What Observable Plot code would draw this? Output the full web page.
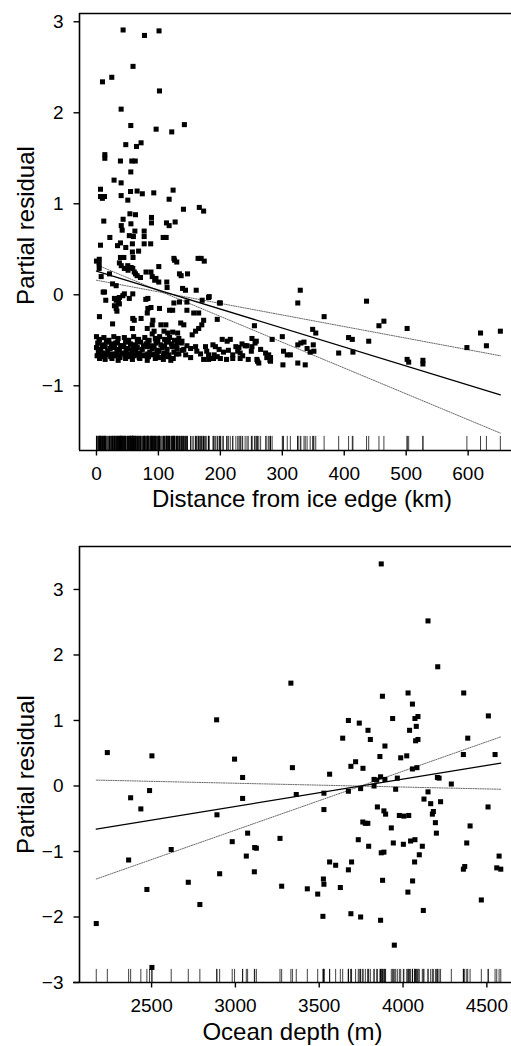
<!DOCTYPE html>
<html>
<head>
<meta charset="utf-8">
<script src="https://cdn.jsdelivr.net/npm/d3@7"></script>
<script src="https://cdn.jsdelivr.net/npm/@observablehq/plot@0.6"></script>
<style>
  html, body { margin: 0; padding: 0; background: #fff; }
  #chart svg { display: block; }
</style>
</head>
<body>
<div id="chart"></div>
<script>
// ---------- Tick labels ----------
const iceTicksX = [0, 100, 200, 300, 400, 500, 600];
const residTicksTop = [-1, 0, 1, 2, 3];
const depthTicksX = [2500, 3000, 3500, 4000, 4500];
const residTicksBottom = [-3, -2, -1, 0, 1, 2, 3];

// ---------- Panel 1: distance from ice edge (km) vs partial residual ----------
const icePoints = [
  // upper scatter
  [43,2.91],[77.5,2.85],[101,2.90],[59,2.51],[9.7,2.34],[24.7,2.39],[101.7,2.24],[39.8,2.04],
  [55.4,1.86],[96.3,1.82],[121.5,1.79],[141.9,1.87],[47.3,1.65],[64.6,1.63],[72,1.67],[13.5,1.54],
  [13.5,1.50],[38.7,1.47],[57,1.47],[62.6,1.47],[55.4,1.35],[28.4,1.26],[39.8,1.23],[6.5,1.16],
  [6.5,1.08],[9.5,1.06],[13,1.08],[39.8,1.09],[50.6,1.04],[55,1.135],[65.6,1.14],[74,1.11],
  [92.5,1.12],[123.7,1.15],[117.3,1.05],[140.4,0.94],[166,0.96],[173,0.92],[54,0.89],[63,0.88],
  [11.8,0.81],[43,0.83],[88.8,0.85],[88.8,0.79],[113,0.79],[117.3,0.76],[127,0.80],[40,0.76],
  [41.5,0.71],[55.6,0.78],[62,0.70],[77,0.70],[21.6,0.63],[53,0.65],[59.6,0.64],[77,0.64],
  [107.7,0.63],[112.5,0.63],[6.5,0.545],[34,0.54],[38.7,0.57],[47.3,0.52],[58,0.56],[68,0.48],
  [58,0.47],[77,0.56],[87.5,0.56],[4.5,0.39],[38.7,0.41],[44.2,0.41],[59,0.41],[125,0.40],[164,0.40],
  // middle scatter
  [0,0.37],[4.4,0.34],[4.4,0.29],[7.6,0.20],[10.8,0.03],[13,0.03],[15,-0.06],
  [21,0.23],[26,0.12],[31.8,0.10],[29,-0.04],[31.8,-0.06],[37,-0.03],[35.5,-0.08],[29,-0.12],
  [31.8,-0.15],[33,-0.18],[37,-0.10],[4.8,-0.24],[26,-0.32],
  [37,0.35],[40,0.32],[45,0.29],[51,0.27],[50.5,0.32],[56,0.30],[58.6,0.29],[61,0.25],[63,0.23],
  [65.6,0.21],[71,0.19],[80,0.25],[88,0.25],[90,0.20],[94,0.16],[100.6,0.31],[96,0.18],[100.6,0.14],
  [113.5,0.14],[114,0.08],[126,0.38],[129.6,0.36],[134,0.23],[136.7,0.21],[147,0.23],[169,0.40],[174,0.37],
  [139,0.07],[143.7,0.05],[161,0.05],[182,-0.02],[198.5,-0.09],[42.5,-0.01],[45,0.01],[58.6,0.01],
  [53,-0.04],[79.6,-0.05],[83,-0.04],
  [58.6,-0.26],[61,-0.28],[58,-0.37],[72,-0.26],[83,-0.15],[88,-0.14],[82,-0.20],[82,-0.37],[90,-0.33],
  [91,-0.28],[93,-0.40],[90,-0.43],[101.7,-0.15],[104,-0.33],[112,-0.33],[109,-0.40],[115,-0.42],
  [118,-0.17],[123,-0.17],[125,-0.09],[123,-0.41],[131,-0.42],[134,-0.08],[136,-0.31],[141,-0.33],
  [146,-0.08],[146,-0.17],[157,-0.20],[165,-0.20],[170.6,-0.06],[181,-0.03],[200,-0.09],[173,-0.28],
  [170,-0.33],[165,-0.37],[160,-0.40],[154.5,-0.44],[195,-0.27],[255,-0.34],
  // far-distance scatter
  [329,0.05],[325,-0.09],[436,-0.07],[367.5,-0.24],[349,-0.38],[354,-0.42],[456,-0.34],[464,-0.29],
  [501.5,-0.37],[620,-0.42],[652,-0.40],[598,-0.58],[629.5,-0.56],[407,-0.47],[413,-0.49],[439.5,-0.51],
  [391,-0.64],[414,-0.63],[501.5,-0.71],[504,-0.74],[527,-0.72],[527,-0.76],[300,-0.46],[283.6,-0.49],
  [281,-0.69],[281,-0.73],[302,-0.62],[308,-0.66],[313,-0.66],[301,-0.77],[325,-0.55],[330,-0.53],
  [335,-0.52],[340,-0.59],[345,-0.63],[350,-0.55],[351,-0.62],[325,-0.75],[337,-0.77],
  // dense lower band, 0-140 km
  [0,-0.46],[5,-0.49],[12,-0.47],[20,-0.50],[28,-0.46],[35,-0.48],[45,-0.47],[52,-0.50],[60,-0.46],
  [68,-0.49],[78,-0.47],[85,-0.50],[95,-0.48],[102,-0.46],[110,-0.49],[118,-0.47],[126,-0.50],[133,-0.48],
  [4,-0.51],[19,-0.51],[34,-0.52],[50,-0.51],[66,-0.50],[83,-0.52],[99,-0.51],[116,-0.50],[131,-0.52],
  [2,-0.53],[9,-0.55],[16,-0.52],[24,-0.54],[31,-0.53],[39,-0.56],[47,-0.52],[55,-0.54],[63,-0.55],
  [71,-0.52],[80,-0.54],[88,-0.56],[96,-0.53],[104,-0.55],[113,-0.52],[121,-0.54],[129,-0.56],[137,-0.53],
  [11,-0.565],[27,-0.57],[42,-0.56],[59,-0.57],[76,-0.56],[93,-0.57],[110,-0.565],[126,-0.57],
  [0,-0.58],[7,-0.60],[14,-0.57],[22,-0.59],[29,-0.58],[37,-0.60],[44,-0.57],[51,-0.59],[58,-0.61],
  [66,-0.58],[74,-0.60],[82,-0.57],[90,-0.59],[98,-0.61],[106,-0.58],[114,-0.60],[122,-0.57],[130,-0.59],[138,-0.61],
  [3,-0.63],[10,-0.64],[18,-0.62],[26,-0.65],[33,-0.63],[41,-0.64],[48,-0.62],[56,-0.65],[63,-0.63],
  [70,-0.64],[78,-0.66],[86,-0.63],[94,-0.65],[101,-0.62],[109,-0.64],[117,-0.66],[125,-0.63],[133,-0.65],
  [6,-0.65],[21,-0.655],[36,-0.66],[52,-0.65],[67,-0.655],[83,-0.65],[98,-0.66],[113,-0.655],[129,-0.65],
  [1,-0.67],[8,-0.68],[15,-0.66],[23,-0.68],[30,-0.67],[38,-0.69],[46,-0.66],[54,-0.68],[61,-0.67],
  [69,-0.69],[76,-0.67],[84,-0.68],[92,-0.66],[100,-0.69],[108,-0.67],[116,-0.68],[124,-0.70],
  [5,-0.70],[14,-0.71],[25,-0.70],[35,-0.72],[47,-0.70],[58,-0.71],[70,-0.70],[82,-0.72],[95,-0.70],
  [108,-0.71],[120,-0.72],
  // lower band, 140-280 km
  [138,-0.51],[146,-0.56],[152,-0.59],[160,-0.57],[162,-0.62],[141,-0.60],[144,-0.66],[152,-0.69],
  [176,-0.57],[178,-0.62],[181,-0.66],[173,-0.71],[181,-0.71],[168,-0.65],[188,-0.55],[190,-0.66],
  [195,-0.68],[203,-0.49],[211,-0.51],[216,-0.49],[198,-0.60],[205,-0.63],[213,-0.61],[220,-0.66],
  [228,-0.62],[232,-0.64],[236,-0.67],[230,-0.58],[240,-0.56],[200,-0.70],[210,-0.71],[220,-0.70],
  [232,-0.70],[245,-0.71],[251,-0.48],[256,-0.53],[251,-0.57],[259,-0.71],[265,-0.60],[273,-0.64],
  [278,-0.66],[258,-0.51],[235,-0.54],[243,-0.56],[250,-0.62],[260,-0.73],[262,-0.75],[275,-0.69],
  [280,-0.72],[189,-0.70],[192,-0.57],[225,-0.57]
];
const iceFit   = [[0, 0.26], [652, -1.10]];
const iceBandA = [[0, 0.33], [652, -1.52]];
const iceBandB = [[0, 0.16], [652, -0.67]];

// ---------- Panel 2: ocean depth (m) vs partial residual ----------
const depthPoints = [
  [2170,-2.10],[2236,0.51],[2363,-1.13],[2375,-0.18],[2436,-0.35],[2472,-1.58],[2488,-0.07],[2502,0.46],
  [2502,-2.77],[2617,-0.97],[2719,-1.47],[2788,-1.81],[2888,1.01],[2890,-0.44],[2906,-1.34],[2981,-0.85],
  [2995,0.41],[3043,0.13],[3043,-0.19],[3065,-1.07],[3073,-0.72],[3113,-1.31],[3115,-0.94],[3125,-0.95],
  [3266,-0.80],[3276,-1.53],[3331,1.57],[3340,0.28],[3363,-0.13],[3429,-1.57],[3491,-1.65],[3522,-1.99],
  [3525,-1.42],[3528,-1.50],[3528,-0.11],[3528,-0.36],[3562,0.18],[3562,-1.16],[3598,-1.21],[3626,-1.55],
  [3640,0.73],[3674,1.00],[3674,-0.08],[3674,-1.28],[3689,0.30],[3689,-1.95],[3693,-1.16],[3717,0.37],
  [3733,-0.82],[3739,0.96],[3747,-0.04],[3747,-2.00],[3761,0.27],[3760,-0.55],[3775,-0.57],[3790,-0.57],
  [3791,0.85],[3795,-0.92],[3805,0.71],[3827,0.10],[3827,0.00],[3843,0.09],[3847,-0.32],[3862,0.45],
  [3866,0.14],[3866,-2.05],[3870,3.39],[3870,-1.02],[3877,1.37],[3878,-1.44],[3886,-0.38],[3886,-1.01],
  [3892,0.61],[3892,0.10],[3896,-0.43],[3930,-0.64],[3938,1.03],[3942,-0.87],[3948,-2.43],[3956,-0.05],
  [3966,0.12],[3978,-0.45],[3986,0.43],[4002,-0.89],[4005,-0.46],[4022,0.46],[4029,-1.62],[4030,1.42],
  [4034,-0.45],[4039,0.85],[4045,-0.84],[4056,1.25],[4056,0.26],[4057,-1.45],[4069,-1.16],[4071,1.03],
  [4071,-0.82],[4075,0.69],[4079,0.91],[4083,0.28],[4089,1.06],[4089,0.71],[4097,-1.05],[4115,-0.92],
  [4121,-1.90],[4125,-0.20],[4149,2.52],[4149,-0.09],[4165,-0.27],[4175,-0.43],[4181,-0.39],[4193,-0.56],
  [4199,-0.72],[4205,0.13],[4215,0.12],[4207,1.82],[4224,-0.24],[4288,0.03],[4362,1.42],[4360,0.48],
  [4360,-1.27],[4368,-1.23],[4380,-0.87],[4386,0.73],[4400,-0.61],[4467,-1.74],[4507,-0.32],[4509,1.07],
  [4549,0.48],[4559,-1.25],[4573,-1.07],[4583,-1.27]
];
const depthFit   = [[2170, -0.66], [4583, 0.35]];
const depthBandA = [[2170, 0.09], [4583, -0.05]];
const depthBandB = [[2170, -1.42], [4583, 0.75]];

// ---------- Drawing ----------
const FONT = "'Liberation Sans', Arial, Helvetica, sans-serif";
const fmt = d => d < 0 ? "\u2212" + (-d) : String(d);

function panel(o) {
  const [x0, x1] = o.xDomain, [y0, y1] = o.yDomain;
  return Plot.plot({
    width: 511,
    height: o.height,
    marginTop: o.marginTop,
    marginBottom: o.marginBottom,
    marginLeft: 79,
    marginRight: 0,
    style: `font-family: ${FONT}; background: #fff; overflow: visible;`,
    x: {domain: o.xDomain, axis: null},
    y: {domain: o.yDomain, axis: null},
    marks: [
      Plot.ruleX(o.points, {x: d => d[0], y1: y0, y2: y0 + o.rug, stroke: "#000", strokeWidth: 0.75}),
      Plot.line(o.bandA, {x: d => d[0], y: d => d[1], stroke: "#444", strokeWidth: 0.8, strokeDasharray: "1.2,1.2"}),
      Plot.line(o.bandB, {x: d => d[0], y: d => d[1], stroke: "#444", strokeWidth: 0.8, strokeDasharray: "1.2,1.2"}),
      Plot.line(o.fit, {x: d => d[0], y: d => d[1], stroke: "#000", strokeWidth: 1.3}),
      Plot.dot(o.points, {x: d => d[0], y: d => d[1], symbol: "square", r: 2.85, fill: "#000", stroke: "none"}),
      Plot.ruleY([y1], {stroke: "#000", strokeWidth: 1.6}),
      Plot.ruleX([x0], {stroke: "#000", strokeWidth: 1.6}),
      Plot.ruleY([y0], {stroke: "#000", strokeWidth: 1.6, insetLeft: o.bottomExtend}),
      Plot.axisX({ticks: o.xTicks, tickSize: 5.5, tickPadding: 10, tickFormat: fmt, fontSize: 19, label: null, strokeWidth: 1.4}),
      Plot.axisY({ticks: o.yTicks, tickSize: 5.5, tickPadding: 10.5, tickFormat: fmt, fontSize: 19, label: null, strokeWidth: 1.4}),
      Plot.text([o.xLabel], {text: d => d, frameAnchor: "bottom", textAnchor: "middle", lineAnchor: "bottom", dy: o.xLabelDy, dx: o.xLabelDx, fontSize: 24}),
      Plot.text([o.yLabel], {text: d => d, frameAnchor: "left", textAnchor: "middle", lineAnchor: "bottom", rotate: -90, dx: -46, dy: o.yLabelDy, fontSize: 24})
    ]
  });
}

const topPanel = panel({
  points: icePoints, fit: iceFit, bandA: iceBandA, bandB: iceBandB,
  xDomain: [-27.4, 670], yDomain: [-1.711, 3.091],
  xTicks: iceTicksX, yTicks: residTicksTop,
  height: 515, marginTop: 13, marginBottom: 65, rug: 0.155, bottomExtend: 0,
  xLabel: "Distance from ice edge (km)", xLabelDx: 6.5, xLabelDy: 56.5,
  yLabel: "Partial residual", yLabelDy: -6.5
});
const bottomPanel = panel({
  points: depthPoints, fit: depthFit, bandA: depthBandA, bandB: depthBandB,
  xDomain: [2070, 4647], yDomain: [-3, 3.656],
  xTicks: depthTicksX, yTicks: residTicksBottom,
  height: 531, marginTop: 31, marginBottom: 64, rug: 0.2, bottomExtend: -6,
  xLabel: "Ocean depth (m)", xLabelDx: -3, xLabelDy: 57.5,
  yLabel: "Partial residual", yLabelDy: 10
});
document.getElementById("chart").append(topPanel, bottomPanel);
</script>
</body>
</html>
